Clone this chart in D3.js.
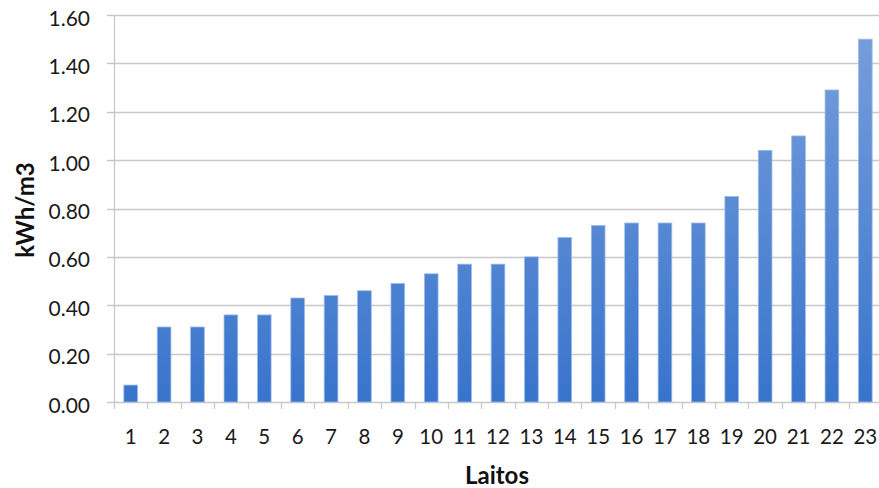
<!DOCTYPE html>
<html>
<head>
<meta charset="utf-8">
<script src="https://cdn.jsdelivr.net/npm/d3@7"></script>
<style>
  html, body { margin: 0; padding: 0; background: #fff; }
  svg { display: block; font-family: Lato, "Open Sans", sans-serif; }
</style>
</head>
<body>
<svg id="chart" width="879" height="488"></svg>
<script>
// Energy use per cubic metre for each plant (Laitos)
const categories = ["1","2","3","4","5","6","7","8","9","10","11","12","13","14","15","16","17","18","19","20","21","22","23"];
const values = [0.07,0.31,0.31,0.36,0.36,0.43,0.44,0.46,0.49,0.53,0.57,0.57,0.60,0.68,0.73,0.74,0.74,0.74,0.85,1.04,1.10,1.29,1.50];
const yTicks = [0,0.2,0.4,0.6,0.8,1.0,1.2,1.4,1.6];
const xTitle = "Laitos";
const yTitle = "kWh/m3";

const svg = d3.select("#chart");
const W = 879;
const plotLeft = 114, plotRight = 882, plotTop = 15, plotBottom = 402;

const x = d3.scaleBand().domain(categories).range([plotLeft, plotRight]).paddingInner(0.59).paddingOuter(0.295);
const xb = d3.scaleBand().domain(categories).range([plotLeft, plotRight]);
const y = d3.scaleLinear().domain([0, 1.6]).range([plotBottom, plotTop]);

const defs = svg.append("defs");
const grad = defs.append("linearGradient").attr("id", "barGrad")
  .attr("gradientUnits", "userSpaceOnUse")
  .attr("x1", 0).attr("y1", plotTop).attr("x2", 0).attr("y2", plotBottom);
grad.append("stop").attr("offset", "0%").attr("stop-color", "#7aa0dc");
grad.append("stop").attr("offset", "100%").attr("stop-color", "#3874cc");

// horizontal gridlines with short ticks left of the axis
svg.append("g").selectAll("line").data(yTicks).join("line")
  .attr("x1", plotLeft - 7).attr("x2", W)
  .attr("y1", d => Math.round(y(d)) + 0.5).attr("y2", d => Math.round(y(d)) + 0.5)
  .attr("stroke", "#c8c8c8").attr("stroke-width", 1.3);

// y axis line
svg.append("line").attr("x1", plotLeft + 0.5).attr("x2", plotLeft + 0.5)
  .attr("y1", plotTop).attr("y2", plotBottom + 7)
  .attr("stroke", "#c8c8c8").attr("stroke-width", 1.3);

// x category ticks
const tickXs = categories.map(c => xb(c) + xb.bandwidth());
svg.append("g").selectAll("line").data(tickXs).join("line")
  .attr("x1", d => Math.round(d) + 0.5).attr("x2", d => Math.round(d) + 0.5)
  .attr("y1", plotBottom).attr("y2", plotBottom + 7)
  .attr("stroke", "#c8c8c8").attr("stroke-width", 1.3);

// y tick labels
svg.append("g").selectAll("text").data(yTicks).join("text")
  .attr("x", 90).attr("y", d => y(d) + 3)
  .attr("dy", "0.36em").attr("text-anchor", "end")
  .attr("font-size", 21).attr("fill", "#1a1a1a")
  .text(d => d.toFixed(2));

// x tick labels
svg.append("g").selectAll("text").data(categories).join("text")
  .attr("x", d => xb(d) + xb.bandwidth() / 2).attr("y", 444)
  .attr("text-anchor", "middle")
  .attr("font-size", 20.5).attr("fill", "#1a1a1a")
  .text(d => d);

// bars
svg.append("g").selectAll("rect").data(values).join("rect")
  .attr("x", (d, i) => x(categories[i]))
  .attr("y", d => y(d))
  .attr("width", x.bandwidth())
  .attr("height", d => plotBottom - y(d))
  .attr("fill", "url(#barGrad)")
  .attr("stroke", "#9dbbe8").attr("stroke-width", 0.8);

// axis titles
svg.append("text").attr("x", 497).attr("y", 484)
  .attr("text-anchor", "middle").attr("font-size", 24).attr("font-weight", "bold")
  .attr("fill", "#111").text(xTitle);

svg.append("text").attr("transform", "translate(25,210) rotate(-90)")
  .attr("text-anchor", "middle").attr("dy", "0.36em")
  .attr("font-size", 24).attr("font-weight", "bold")
  .attr("fill", "#111").text(yTitle);
</script>
</body>
</html>
